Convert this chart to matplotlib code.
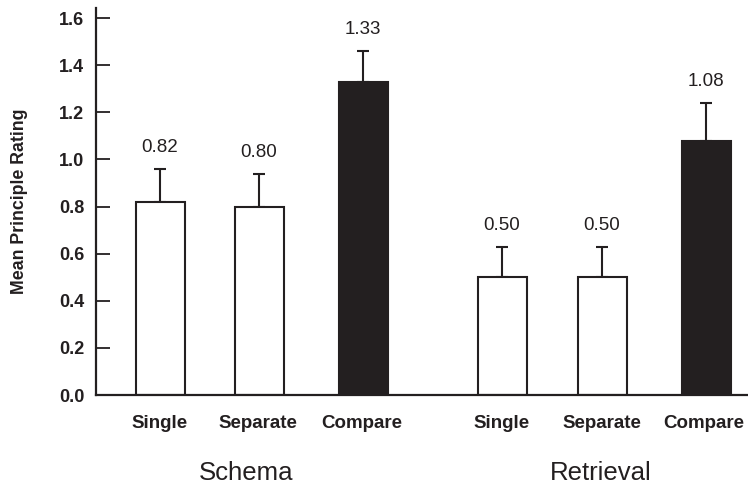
import matplotlib
matplotlib.use("Agg")
import matplotlib.pyplot as plt

plt.rcParams["font.family"] = ["Liberation Sans", "DejaVu Sans"]

# data
groups = ["Schema", "Retrieval"]
conditions = ["Single", "Separate", "Compare"]
schema_means = [0.82, 0.80, 1.33]
schema_err = [0.14, 0.14, 0.13]
retrieval_means = [0.50, 0.50, 1.08]
retrieval_err = [0.13, 0.13, 0.16]
value_labels = ["0.82", "0.80", "1.33", "0.50", "0.50", "1.08"]
yticks = [0.0, 0.2, 0.4, 0.6, 0.8, 1.0, 1.2, 1.4, 1.6]

# layout (x in pixel-like units along the axis)
bar_x = [160, 259, 363, 502, 602, 706]
label_x = [160, 258, 362, 502, 602, 704]
group_x = [246, 601]
bar_w = 49
dark = "#231f20"

means = schema_means + retrieval_means
errs = schema_err + retrieval_err
colors = ["white", "white", dark, "white", "white", dark]

fig = plt.figure(figsize=(7.48, 4.87), dpi=100)
ax = fig.add_axes([96 / 748, 92 / 487, 652 / 748, 387 / 487])

ax.bar(bar_x, means, width=bar_w, color=colors, edgecolor=dark, linewidth=1.5, zorder=2)
ax.errorbar(bar_x, means, yerr=[[0] * len(errs), errs], fmt="none",
            ecolor=dark, elinewidth=1.5, capsize=4.6, capthick=1.5, zorder=1)

for x, m, e, s in zip(bar_x, means, errs, value_labels):
    ax.annotate(s, (x, m + e), xytext=(0, 12), textcoords="offset points",
                ha="center", va="baseline", fontsize=13.5, color=dark)

ax.set_xlim(96, 748)
ax.set_ylim(0, 1.643)
ax.set_yticks(yticks)
ax.set_yticklabels([f"{t:.1f}" for t in yticks], fontweight="bold", fontsize=13)
ax.set_xticks([])
ax.tick_params(axis="y", direction="in", length=10, width=1.3, color=dark, pad=8.5, labelcolor=dark)

for s in ["top", "right"]:
    ax.spines[s].set_visible(False)
for s in ["left", "bottom"]:
    ax.spines[s].set_linewidth(1.6)
    ax.spines[s].set_color(dark)

ax.set_ylabel("Mean Principle Rating", fontweight="bold", fontsize=12.8, color=dark)
ax.yaxis.label.set_va("center")
ax.yaxis.set_label_coords(-0.118, 0.5)

trans = ax.get_xaxis_transform()
for x, c in zip(label_x, conditions * 2):
    ax.text(x, -33 / 387, c, transform=trans, ha="center", va="baseline",
            fontweight="bold", fontsize=13.5, color=dark)
for x, g in zip(group_x, groups):
    ax.text(x, -85 / 387, g, transform=trans, ha="center", va="baseline",
            fontsize=18.5, color=dark)

fig.savefig("out.png", dpi=100)
